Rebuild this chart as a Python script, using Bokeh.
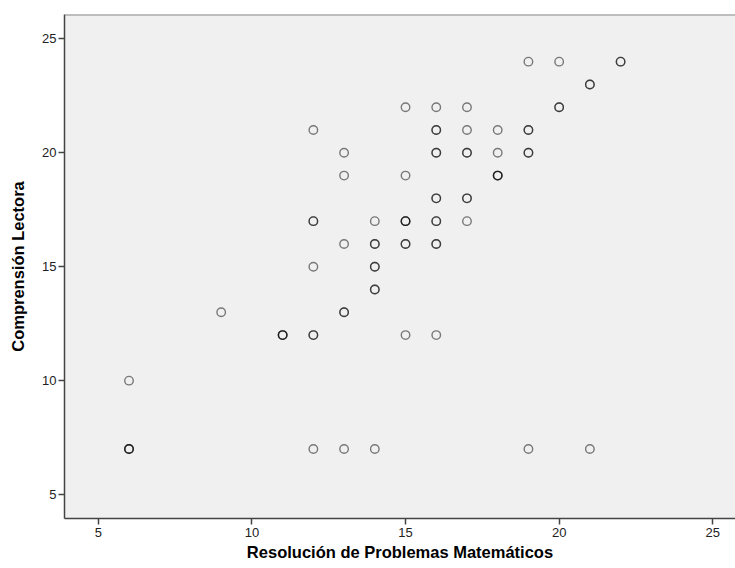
from bokeh.plotting import figure
from bokeh.models import Range1d, FixedTicker, Span, Title, ColumnDataSource
from bokeh.embed import file_html
from bokeh.resources import INLINE

# Resolución de Problemas Matemáticos (x), Comprensión Lectora (y), overlap count
res_problemas = [19, 20, 22, 21, 15, 16, 17, 20, 12, 16, 17, 18, 19,
                 13, 16, 17, 18, 19, 13, 15, 18, 16, 17,
                 12, 14, 15, 16, 17, 13, 14, 15, 16, 12, 14, 14,
                 9, 13, 11, 12, 15, 16, 6, 6, 12, 13, 14, 19, 21]
comp_lectora = [24, 24, 24, 23, 22, 22, 22, 22, 21, 21, 21, 21, 21,
                20, 20, 20, 20, 20, 19, 19, 19, 18, 18,
                17, 17, 17, 17, 17, 16, 16, 16, 16, 15, 15, 14,
                13, 13, 12, 12, 12, 12, 10, 7, 7, 7, 7, 7, 7]
overlap = [1, 1, 2, 2, 1, 1, 1, 2, 1, 2, 1, 1, 2,
           1, 2, 2, 1, 2, 1, 1, 3, 2, 2,
           2, 1, 3, 2, 1, 1, 2, 2, 2, 1, 2, 2,
           1, 2, 3, 2, 1, 1, 1, 3, 1, 1, 1, 1, 1]
x_ticks = [5, 10, 15, 20, 25]
y_ticks = [5, 10, 15, 20, 25]

xs, ys = [], []
for xv, yv, n in zip(res_problemas, comp_lectora, overlap):
    for _ in range(n):
        xs.append(xv)
        ys.append(yv)
src = ColumnDataSource(dict(x=xs, y=ys))

FONT = "Liberation Sans"
y_lo, y_hi = 3.95, 26.07

p = figure(width=735, height=562, output_backend="svg", toolbar_location=None,
           x_range=Range1d(3.9, 25.74), y_range=Range1d(y_lo, y_hi),
           min_border_left=64, min_border_top=14, min_border_right=0,
           min_border_bottom=44)
p.background_fill_color = "#F0F0F0"
p.border_fill_color = "white"
p.outline_line_color = None
p.grid.visible = False

p.scatter("x", "y", source=src, marker="circle", size=8.5, fill_color=None,
          line_color="black", line_alpha=0.5, line_width=1.4)

for ax in (p.xaxis[0], p.yaxis[0]):
    ax.axis_line_color = "#444444"
    ax.axis_line_width = 1.5
    ax.major_tick_line_color = "#444444"
    ax.major_tick_line_width = 1.5
    ax.major_tick_out = 6
    ax.major_tick_in = 0
    ax.minor_tick_line_color = None
    ax.major_label_text_font = FONT
    ax.major_label_text_font_size = "13px"
    ax.major_label_text_color = "#222222"
    ax.axis_label_text_font = FONT
    ax.axis_label_text_font_style = "bold"
    ax.axis_label_text_font_size = "16.5px"
    ax.axis_label_text_color = "black"

p.xaxis.ticker = FixedTicker(ticks=x_ticks)
p.yaxis.ticker = FixedTicker(ticks=y_ticks)
p.xaxis.major_label_standoff = 3
p.yaxis.major_label_standoff = 2
p.yaxis.axis_label = "Comprensión Lectora"
p.yaxis.axis_label_standoff = 12

p.add_layout(Span(location=y_hi, dimension="width", line_color="#888888",
                  line_width=2))

xt = Title(text="Resolución de Problemas Matemáticos", align="center",
           text_font=FONT, text_font_size="16.5px",
           text_font_style="bold", text_color="black", standoff=2)
p.add_layout(xt, "below")

open("out.html", "w").write(file_html(p, INLINE))
